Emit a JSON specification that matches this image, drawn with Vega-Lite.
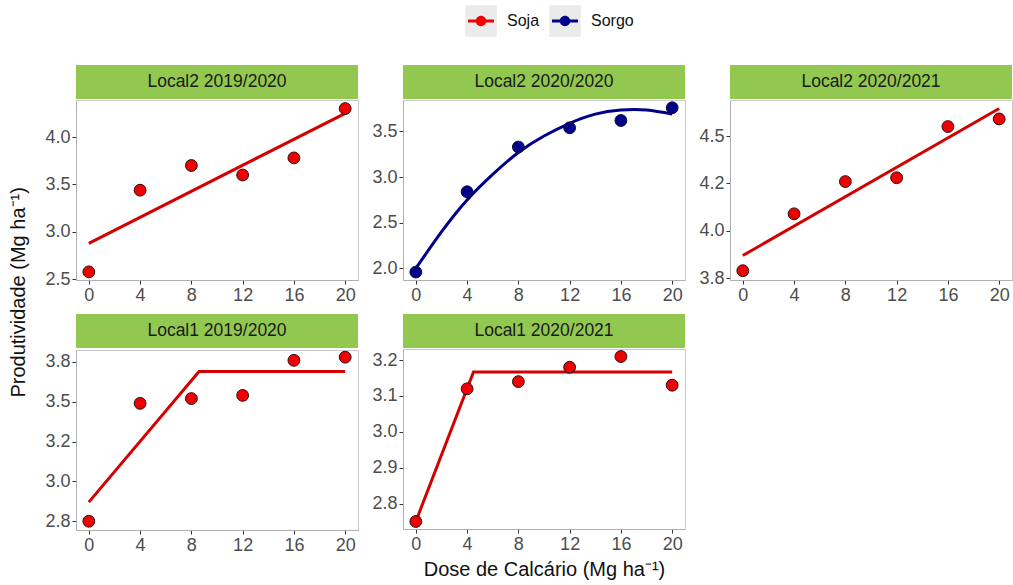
{
  "$schema": "https://vega.github.io/schema/vega-lite/v6.json",
  "background": "white",
  "padding": {"left": 9, "top": 5, "right": 0, "bottom": 0},
  "title": {
    "text": "Produtividade (Mg ha⁻¹)",
    "orient": "left",
    "anchor": "middle",
    "fontSize": 20,
    "fontWeight": "normal",
    "color": "#111111",
    "offset": 15
  },
  "datasets": {
    "culturas": [
      {"cultura": "Soja"},
      {"cultura": "Sorgo"}
    ],
    "pontos": [
      {"local": "Local2 2019/2020", "cultura": "Soja", "dose": 0, "prod": 2.58},
      {"local": "Local2 2019/2020", "cultura": "Soja", "dose": 4, "prod": 3.44},
      {"local": "Local2 2019/2020", "cultura": "Soja", "dose": 8, "prod": 3.70},
      {"local": "Local2 2019/2020", "cultura": "Soja", "dose": 12, "prod": 3.60},
      {"local": "Local2 2019/2020", "cultura": "Soja", "dose": 16, "prod": 3.78},
      {"local": "Local2 2019/2020", "cultura": "Soja", "dose": 20, "prod": 4.30},
      {"local": "Local2 2020/2020", "cultura": "Sorgo", "dose": 0, "prod": 1.96},
      {"local": "Local2 2020/2020", "cultura": "Sorgo", "dose": 4, "prod": 2.84},
      {"local": "Local2 2020/2020", "cultura": "Sorgo", "dose": 8, "prod": 3.33},
      {"local": "Local2 2020/2020", "cultura": "Sorgo", "dose": 12, "prod": 3.54},
      {"local": "Local2 2020/2020", "cultura": "Sorgo", "dose": 16, "prod": 3.62},
      {"local": "Local2 2020/2020", "cultura": "Sorgo", "dose": 20, "prod": 3.76},
      {"local": "Local2 2020/2021", "cultura": "Soja", "dose": 0, "prod": 3.79},
      {"local": "Local2 2020/2021", "cultura": "Soja", "dose": 4, "prod": 4.09},
      {"local": "Local2 2020/2021", "cultura": "Soja", "dose": 8, "prod": 4.26},
      {"local": "Local2 2020/2021", "cultura": "Soja", "dose": 12, "prod": 4.28},
      {"local": "Local2 2020/2021", "cultura": "Soja", "dose": 16, "prod": 4.55},
      {"local": "Local2 2020/2021", "cultura": "Soja", "dose": 20, "prod": 4.59},
      {"local": "Local1 2019/2020", "cultura": "Soja", "dose": 0, "prod": 2.75},
      {"local": "Local1 2019/2020", "cultura": "Soja", "dose": 4, "prod": 3.49},
      {"local": "Local1 2019/2020", "cultura": "Soja", "dose": 8, "prod": 3.52},
      {"local": "Local1 2019/2020", "cultura": "Soja", "dose": 12, "prod": 3.54},
      {"local": "Local1 2019/2020", "cultura": "Soja", "dose": 16, "prod": 3.76},
      {"local": "Local1 2019/2020", "cultura": "Soja", "dose": 20, "prod": 3.78},
      {"local": "Local1 2020/2021", "cultura": "Soja", "dose": 0, "prod": 2.75},
      {"local": "Local1 2020/2021", "cultura": "Soja", "dose": 4, "prod": 3.12},
      {"local": "Local1 2020/2021", "cultura": "Soja", "dose": 8, "prod": 3.14},
      {"local": "Local1 2020/2021", "cultura": "Soja", "dose": 12, "prod": 3.18},
      {"local": "Local1 2020/2021", "cultura": "Soja", "dose": 16, "prod": 3.21},
      {"local": "Local1 2020/2021", "cultura": "Soja", "dose": 20, "prod": 3.13}
    ],
    "ajuste": [
      {"local": "Local2 2019/2020", "cultura": "Soja", "dose": 0, "prod": 2.88},
      {"local": "Local2 2019/2020", "cultura": "Soja", "dose": 20, "prod": 4.25},
      {"local": "Local2 2020/2020", "cultura": "Sorgo", "dose": 0, "prod": 2.00},
      {"local": "Local2 2020/2020", "cultura": "Sorgo", "dose": 2, "prod": 2.40},
      {"local": "Local2 2020/2020", "cultura": "Sorgo", "dose": 4, "prod": 2.75},
      {"local": "Local2 2020/2020", "cultura": "Sorgo", "dose": 6, "prod": 3.03},
      {"local": "Local2 2020/2020", "cultura": "Sorgo", "dose": 8, "prod": 3.27},
      {"local": "Local2 2020/2020", "cultura": "Sorgo", "dose": 10, "prod": 3.45},
      {"local": "Local2 2020/2020", "cultura": "Sorgo", "dose": 12, "prod": 3.59},
      {"local": "Local2 2020/2020", "cultura": "Sorgo", "dose": 14, "prod": 3.69},
      {"local": "Local2 2020/2020", "cultura": "Sorgo", "dose": 16, "prod": 3.735},
      {"local": "Local2 2020/2020", "cultura": "Sorgo", "dose": 18, "prod": 3.735},
      {"local": "Local2 2020/2020", "cultura": "Sorgo", "dose": 20, "prod": 3.69},
      {"local": "Local2 2020/2021", "cultura": "Soja", "dose": 0, "prod": 3.87},
      {"local": "Local2 2020/2021", "cultura": "Soja", "dose": 20, "prod": 4.645},
      {"local": "Local1 2019/2020", "cultura": "Soja", "dose": 0, "prod": 2.87},
      {"local": "Local1 2019/2020", "cultura": "Soja", "dose": 8.6, "prod": 3.69},
      {"local": "Local1 2019/2020", "cultura": "Soja", "dose": 20, "prod": 3.69},
      {"local": "Local1 2020/2021", "cultura": "Soja", "dose": 0, "prod": 2.75},
      {"local": "Local1 2020/2021", "cultura": "Soja", "dose": 4.5, "prod": 3.167},
      {"local": "Local1 2020/2021", "cultura": "Soja", "dose": 20, "prod": 3.167}
    ]
  },
  "spacing": 28,
  "vconcat": [
    {
      "width": 560, "height": 30,
      "view": {"stroke": null},
      "data": {"name": "culturas"},
      "encoding": {
        "x": {"field": "cultura", "type": "nominal", "scale": {"type": "point", "domain": ["Soja", "Sorgo"], "range": [405, 489], "padding": 0}, "axis": null}
      },
      "layer": [
        {"mark": {"type": "point", "shape": "square", "size": 1000, "filled": true, "fill": "#ebebeb", "opacity": 1, "strokeWidth": 0}},
        {
          "mark": {"type": "point", "shape": "M-1,-0.115H1V0.115H-1Z M0.4,0A0.4,0.4,0,1,1,-0.4,0A0.4,0.4,0,1,1,0.4,0Z", "size": 676, "filled": true, "opacity": 1, "strokeWidth": 0},
          "encoding": {"color": {"field": "cultura", "type": "nominal", "scale": {"domain": ["Soja", "Sorgo"], "range": ["#f00000", "#00008b"]}, "legend": null}}
        },
        {
          "mark": {"type": "text", "align": "left", "baseline": "middle", "dx": 26, "fontSize": 16, "color": "#111111"},
          "encoding": {"text": {"field": "cultura"}}
        }
      ]
    },
    {
      "spacing": 9,
      "vconcat": [
        {
          "spacing": 12,
          "hconcat": [
            {
              "spacing": 0,
              "vconcat": [
                {
                  "width": 282, "height": 34,
                  "view": {"fill": "#92c850", "stroke": null},
                  "data": {"values": [{"rotulo": "Local2 2019/2020"}]},
                  "mark": {"type": "text", "fontSize": 17.5, "color": "#1a1a1a", "baseline": "middle"},
                  "encoding": {"text": {"field": "rotulo"}}
                },
                {
                  "width": 282, "height": 180,
                  "layer": [
                    {
                      "data": {"name": "ajuste"},
                      "transform": [{"filter": "datum.local == 'Local2 2019/2020'"}],
                      "mark": {"type": "line", "strokeWidth": 3},
                      "encoding": {
                        "x": {"field": "dose", "type": "quantitative", "scale": {"domain": [-1, 21], "nice": false}, "axis": {"values": [0, 4, 8, 12, 16, 20], "title": null}},
                        "y": {"field": "prod", "type": "quantitative", "scale": {"domain": [2.494, 4.39], "nice": false, "zero": false}, "axis": {"values": [2.5, 3, 3.5, 4], "format": ".1f", "title": null}},
                        "stroke": {"field": "cultura", "type": "nominal", "scale": {"domain": ["Soja", "Sorgo"], "range": ["#d40000", "#00008b"]}, "legend": null}
                      }
                    },
                    {
                      "data": {"name": "pontos"},
                      "transform": [{"filter": "datum.local == 'Local2 2019/2020'"}],
                      "mark": {"type": "point", "filled": true, "size": 140, "opacity": 1, "stroke": "#2a1010", "strokeWidth": 1},
                      "encoding": {
                        "x": {"field": "dose", "type": "quantitative"},
                        "y": {"field": "prod", "type": "quantitative"},
                        "color": {"field": "cultura", "type": "nominal", "legend": null}
                      }
                    }
                  ]
                }
              ]
            },
            {
              "spacing": 0,
              "vconcat": [
                {
                  "width": 282, "height": 34,
                  "view": {"fill": "#92c850", "stroke": null},
                  "data": {"values": [{"rotulo": "Local2 2020/2020"}]},
                  "mark": {"type": "text", "fontSize": 17.5, "color": "#1a1a1a", "baseline": "middle"},
                  "encoding": {"text": {"field": "rotulo"}}
                },
                {
                  "width": 282, "height": 180,
                  "layer": [
                    {
                      "data": {"name": "ajuste"},
                      "transform": [{"filter": "datum.local == 'Local2 2020/2020'"}],
                      "mark": {"type": "line", "strokeWidth": 3, "interpolate": "natural"},
                      "encoding": {
                        "x": {"field": "dose", "type": "quantitative", "scale": {"domain": [-1, 21], "nice": false}, "axis": {"values": [0, 4, 8, 12, 16, 20], "title": null}},
                        "y": {"field": "prod", "type": "quantitative", "scale": {"domain": [1.873, 3.845], "nice": false, "zero": false}, "axis": {"values": [2, 2.5, 3, 3.5], "format": ".1f", "title": null}},
                        "stroke": {"field": "cultura", "type": "nominal", "scale": {"domain": ["Soja", "Sorgo"], "range": ["#d40000", "#00008b"]}, "legend": null}
                      }
                    },
                    {
                      "data": {"name": "pontos"},
                      "transform": [{"filter": "datum.local == 'Local2 2020/2020'"}],
                      "mark": {"type": "point", "filled": true, "size": 140, "opacity": 1, "stroke": "#101030", "strokeWidth": 1},
                      "encoding": {
                        "x": {"field": "dose", "type": "quantitative"},
                        "y": {"field": "prod", "type": "quantitative"},
                        "color": {"field": "cultura", "type": "nominal", "legend": null}
                      }
                    }
                  ]
                }
              ]
            },
            {
              "spacing": 0,
              "vconcat": [
                {
                  "width": 282, "height": 34,
                  "view": {"fill": "#92c850", "stroke": null},
                  "data": {"values": [{"rotulo": "Local2 2020/2021"}]},
                  "mark": {"type": "text", "fontSize": 17.5, "color": "#1a1a1a", "baseline": "middle"},
                  "encoding": {"text": {"field": "rotulo"}}
                },
                {
                  "width": 282, "height": 180,
                  "layer": [
                    {
                      "data": {"name": "ajuste"},
                      "transform": [{"filter": "datum.local == 'Local2 2020/2021'"}],
                      "mark": {"type": "line", "strokeWidth": 3},
                      "encoding": {
                        "x": {"field": "dose", "type": "quantitative", "scale": {"domain": [-1, 21], "nice": false}, "axis": {"values": [0, 4, 8, 12, 16, 20], "title": null}},
                        "y": {"field": "prod", "type": "quantitative", "scale": {"domain": [3.741, 4.69], "nice": false, "zero": false}, "axis": {"values": [3.75, 4, 4.25, 4.5], "labelExpr": "datum.value == 4.25 ? '4.2' : format(datum.value, '.1f')", "title": null}},
                        "stroke": {"field": "cultura", "type": "nominal", "scale": {"domain": ["Soja", "Sorgo"], "range": ["#d40000", "#00008b"]}, "legend": null}
                      }
                    },
                    {
                      "data": {"name": "pontos"},
                      "transform": [{"filter": "datum.local == 'Local2 2020/2021'"}],
                      "mark": {"type": "point", "filled": true, "size": 140, "opacity": 1, "stroke": "#2a1010", "strokeWidth": 1},
                      "encoding": {
                        "x": {"field": "dose", "type": "quantitative"},
                        "y": {"field": "prod", "type": "quantitative"},
                        "color": {"field": "cultura", "type": "nominal", "legend": null}
                      }
                    }
                  ]
                }
              ]
            }
          ]
        },
        {
          "spacing": 12,
          "hconcat": [
            {
              "spacing": 0,
              "vconcat": [
                {
                  "width": 282, "height": 34,
                  "view": {"fill": "#92c850", "stroke": null},
                  "data": {"values": [{"rotulo": "Local1 2019/2020"}]},
                  "mark": {"type": "text", "fontSize": 17.5, "color": "#1a1a1a", "baseline": "middle"},
                  "encoding": {"text": {"field": "rotulo"}}
                },
                {
                  "width": 282, "height": 180,
                  "layer": [
                    {
                      "data": {"name": "ajuste"},
                      "transform": [{"filter": "datum.local == 'Local1 2019/2020'"}],
                      "mark": {"type": "line", "strokeWidth": 3},
                      "encoding": {
                        "x": {"field": "dose", "type": "quantitative", "scale": {"domain": [-1, 21], "nice": false}, "axis": {"values": [0, 4, 8, 12, 16, 20], "title": null}},
                        "y": {"field": "prod", "type": "quantitative", "scale": {"domain": [2.695, 3.825], "nice": false, "zero": false}, "axis": {"values": [2.75, 3, 3.25, 3.5, 3.75], "labelExpr": "datum.value == 3.25 ? '3.2' : format(datum.value, '.1f')", "title": null}},
                        "stroke": {"field": "cultura", "type": "nominal", "scale": {"domain": ["Soja", "Sorgo"], "range": ["#d40000", "#00008b"]}, "legend": null}
                      }
                    },
                    {
                      "data": {"name": "pontos"},
                      "transform": [{"filter": "datum.local == 'Local1 2019/2020'"}],
                      "mark": {"type": "point", "filled": true, "size": 140, "opacity": 1, "stroke": "#2a1010", "strokeWidth": 1},
                      "encoding": {
                        "x": {"field": "dose", "type": "quantitative"},
                        "y": {"field": "prod", "type": "quantitative"},
                        "color": {"field": "cultura", "type": "nominal", "legend": null}
                      }
                    }
                  ]
                }
              ]
            },
            {
              "spacing": 0,
              "vconcat": [
                {
                  "width": 282, "height": 34,
                  "view": {"fill": "#92c850", "stroke": null},
                  "data": {"values": [{"rotulo": "Local1 2020/2021"}]},
                  "mark": {"type": "text", "fontSize": 17.5, "color": "#1a1a1a", "baseline": "middle"},
                  "encoding": {"text": {"field": "rotulo"}}
                },
                {
                  "width": 282, "height": 180,
                  "layer": [
                    {
                      "data": {"name": "ajuste"},
                      "transform": [{"filter": "datum.local == 'Local1 2020/2021'"}],
                      "mark": {"type": "line", "strokeWidth": 3},
                      "encoding": {
                        "x": {"field": "dose", "type": "quantitative", "scale": {"domain": [-1, 21], "nice": false}, "axis": {"values": [0, 4, 8, 12, 16, 20], "title": "Dose de Calcário (Mg ha⁻¹)"}},
                        "y": {"field": "prod", "type": "quantitative", "scale": {"domain": [2.729, 3.231], "nice": false, "zero": false}, "axis": {"values": [2.8, 2.9, 3.0, 3.1, 3.2], "format": ".1f", "title": null}},
                        "stroke": {"field": "cultura", "type": "nominal", "scale": {"domain": ["Soja", "Sorgo"], "range": ["#d40000", "#00008b"]}, "legend": null}
                      }
                    },
                    {
                      "data": {"name": "pontos"},
                      "transform": [{"filter": "datum.local == 'Local1 2020/2021'"}],
                      "mark": {"type": "point", "filled": true, "size": 140, "opacity": 1, "stroke": "#2a1010", "strokeWidth": 1},
                      "encoding": {
                        "x": {"field": "dose", "type": "quantitative"},
                        "y": {"field": "prod", "type": "quantitative"},
                        "color": {"field": "cultura", "type": "nominal", "legend": null}
                      }
                    }
                  ]
                }
              ]
            }
          ]
        }
      ]
    }
  ],
  "config": {
    "font": "Liberation Sans",
    "view": {"stroke": "#c8c8c8"},
    "axis": {
      "grid": false,
      "labelFontSize": 18,
      "labelColor": "#4d4d4d",
      "tickColor": "#333333",
      "tickSize": 4,
      "labelPadding": 2,
      "domainColor": "#b0b0b0",
      "titleFontSize": 20,
      "titleFontWeight": "normal",
      "titleColor": "#111111",
      "titlePadding": 6
    }
  }
}
